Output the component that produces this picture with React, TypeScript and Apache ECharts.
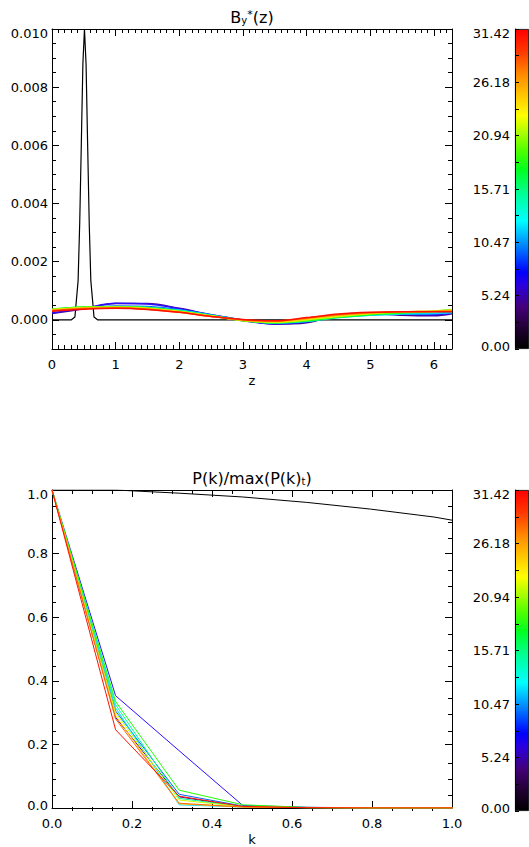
import React, { useEffect, useRef } from "react";
import * as echarts from "echarts";

// ---------- data ----------
const T_MAX = 31.416;
const Z_MAX = 6.2832;
const K_MAX = 1.0;

// times of the curves (colour scale), t=0 is black
const curveTimes = [0, 3.14, 6.28, 9.42, 12.57, 15.71, 18.85, 21.99, 25.13, 28.27, 31.42];
const curveColors = ["#000000", "#4a0098", "#2a10ff", "#0064ff", "#00d8ff", "#00ff90", "#20ff00", "#c8ff00", "#ffc800", "#ff6a00", "#ff1000"];

// top panel: B_y*(z)
const zBlack = [0, 0.3, 0.36, 0.41, 0.435, 0.46, 0.485, 0.51, 0.535, 0.56, 0.585, 0.61, 0.66, 0.72, 6.2832];
const byBlack = [0, 0, 0.0001, 0.00135, 0.0033, 0.006, 0.0088, 0.0100, 0.0088, 0.006, 0.0033, 0.00135, 0.0001, 0, 0];

const zGrid = [0, 0.5, 1.0, 1.5, 2.0, 2.5, 3.0, 3.5, 4.0, 4.5, 5.0, 5.5, 6.0, 6.2832];
const by_t03 = [0.00022, 0.00038, 0.00056, 0.00056, 0.00040, 0.00018, 0.00000, -0.00015, -0.00010, 0.00015, 0.00022, 0.00016, 0.00014, 0.00021];
const by_t06 = [0.00024, 0.00040, 0.00057, 0.00055, 0.00038, 0.00016, -0.00003, -0.00014, -0.00006, 0.00018, 0.00023, 0.00020, 0.00018, 0.00023];
const by_t09 = [0.00030, 0.00042, 0.00048, 0.00046, 0.00035, 0.00018, 0.00000, -0.00010, -0.00006, 0.00010, 0.00018, 0.00020, 0.00022, 0.00028];
const by_t13 = [0.00034, 0.00043, 0.00045, 0.00043, 0.00033, 0.00016, 0.00000, -0.00010, -0.00005, 0.00008, 0.00016, 0.00020, 0.00022, 0.00025];
const by_t16 = [0.00036, 0.00044, 0.00046, 0.00043, 0.00032, 0.00015, -0.00002, -0.00011, -0.00004, 0.00008, 0.00017, 0.00023, 0.00028, 0.00034];
const by_t19 = [0.00037, 0.00044, 0.00045, 0.00042, 0.00030, 0.00014, -0.00003, -0.00010, -0.00003, 0.00010, 0.00019, 0.00025, 0.00030, 0.00036];
const by_t22 = [0.00036, 0.00043, 0.00044, 0.00040, 0.00029, 0.00014, -0.00002, -0.00008, 0.00000, 0.00012, 0.00021, 0.00027, 0.00031, 0.00035];
const by_t25 = [0.00034, 0.00041, 0.00043, 0.00039, 0.00028, 0.00013, -0.00001, -0.00006, 0.00003, 0.00015, 0.00023, 0.00028, 0.00030, 0.00033];
const by_t28 = [0.00032, 0.00039, 0.00041, 0.00037, 0.00026, 0.00012, 0.00000, -0.00004, 0.00006, 0.00018, 0.00025, 0.00028, 0.00029, 0.00030];
const by_t31 = [0.00030, 0.00037, 0.00040, 0.00036, 0.00026, 0.00012, 0.00001, -0.00003, 0.00008, 0.00020, 0.00026, 0.00028, 0.00028, 0.00028];
const byCurves = [by_t03, by_t06, by_t09, by_t13, by_t16, by_t19, by_t22, by_t25, by_t28, by_t31];

// bottom panel: P(k)/max(P(k)_t)
const kGrid = [0, 0.159, 0.318, 0.477, 0.637, 0.796, 0.955, 1.114];
const pk_t00 = [1.0, 1.0, 0.99, 0.978, 0.961, 0.94, 0.915, 0.88];
const pk_t03 = [1.0, 0.285, 0.035, 0.004, 0.001, 0, 0, 0];
const pk_t06 = [1.0, 0.353, 0.18, 0.008, 0.002, 0.001, 0, 0];
const pk_t09 = [1.0, 0.305, 0.043, 0.006, 0.002, 0, 0, 0];
const pk_t13 = [1.0, 0.315, 0.010, 0.003, 0.001, 0, 0, 0];
const pk_t16 = [1.0, 0.325, 0.030, 0.005, 0.001, 0, 0, 0];
const pk_t19 = [1.0, 0.335, 0.056, 0.010, 0.002, 0, 0, 0];
const pk_t22 = [1.0, 0.300, 0.025, 0.004, 0.001, 0, 0, 0];
const pk_t25 = [1.0, 0.290, 0.013, 0.003, 0.001, 0, 0, 0];
const pk_t28 = [1.0, 0.280, 0.015, 0.003, 0.001, 0, 0, 0];
const pk_t31 = [1.0, 0.246, 0.037, 0.005, 0.001, 0, 0, 0];
const pkCurves = [pk_t00, pk_t03, pk_t06, pk_t09, pk_t13, pk_t16, pk_t19, pk_t22, pk_t25, pk_t28, pk_t31];

// tick values
const zTicks = [0, 1, 2, 3, 4, 5, 6];
const byTicks = [0, 0.002, 0.004, 0.006, 0.008, 0.010];
const kTicks = [0, 0.2, 0.4, 0.6, 0.8, 1.0];
const pTicks = [0, 0.2, 0.4, 0.6, 0.8, 1.0];
const cbTicks = [0, 5.236, 10.472, 15.708, 20.944, 26.180, 31.416];

// colour bar gradient
const cbStops: [number, string][] = [
  [0, "#000000"], [0.06, "#1e002e"], [0.13, "#44007a"], [0.2, "#2a00e0"], [0.24, "#0000ff"],
  [0.32, "#0080ff"], [0.40, "#00ffff"], [0.48, "#00ff9c"], [0.56, "#00ff20"], [0.62, "#50ff00"],
  [0.68, "#b0ff00"], [0.73, "#ffff00"], [0.80, "#ffc000"], [0.86, "#ff8800"], [0.93, "#ff3800"], [1, "#ff0000"],
];

// ---------- helpers ----------
const FONT = "'DejaVu Sans', sans-serif";
const AX = "#000";

function minorList(lo: number, hi: number, step: number, majorEvery: number): number[] {
  const out: number[] = [];
  const n0 = Math.ceil(lo / step - 1e-9);
  const n1 = Math.floor(hi / step + 1e-9);
  for (let i = n0; i <= n1; i++) {
    if (i % majorEvery !== 0) out.push(+(i * step).toFixed(6));
  }
  return out;
}

const zMinor = minorList(0, Z_MAX, 0.1, 10);
const byMinor = minorList(-0.001, 0.010, 0.0005, 4);
const kMinor = minorList(0, 1, 0.05, 4);
const pMinor = minorList(0, 1, 0.05, 4);
const cbAll = [...cbTicks, ...cbTicks.slice(0, 6).map((v, i) => (v + cbTicks[i + 1]) / 2)];

const rich = {
  dn: { padding: [8, 0, 0, 0], fontFamily: FONT, fontSize: 13, color: "#000" },
  up: { padding: [0, 0, 6, 0], fontFamily: FONT, fontSize: 13, color: "#000" },
};

function axis(o: any) {
  return {
    type: "value",
    gridIndex: o.grid,
    position: o.pos,
    min: o.min,
    max: o.max,
    z: o.z ?? 0,
    axisLine: { show: !!o.line, onZero: false, lineStyle: { color: AX, width: 1 } },
    axisTick: { show: true, inside: true, length: o.len, customValues: o.ticks, lineStyle: { color: AX, width: 1 } },
    axisLabel: o.labels
      ? { show: true, customValues: o.labels, formatter: o.fmt, margin: o.margin, color: "#000", fontFamily: FONT, fontSize: 13, rich }
      : { show: false },
    splitLine: { show: false },
    minorTick: { show: false },
    name: o.name ?? "",
    nameLocation: "middle",
    nameGap: o.nameGap ?? 0,
    nameTextStyle: { color: "#000", fontFamily: FONT, fontSize: 13 },
  };
}

const TOP = { left: 52, top: 29, width: 400, height: 320 };
const BOT = { left: 52, top: 490, width: 400, height: 321 };
const CB1 = { left: 515, top: 29, width: 14, height: 320 };
const CB2 = { left: 515, top: 490, width: 14, height: 321 };

const fmtBy = (v: number) => {
  const s = v.toFixed(3);
  return Math.abs(v - 0.01) < 1e-9 ? `{dn|${s}}` : s;
};
const fmtP = (v: number) => {
  const s = v.toFixed(1);
  if (Math.abs(v - 1) < 1e-9) return `{dn|${s}}`;
  if (Math.abs(v) < 1e-9) return `{up|${s}}`;
  return s;
};
const fmtCb = (v: number) => {
  const s = v.toFixed(2);
  if (v > 31) return `{dn|${s}}`;
  if (v < 0.01) return `{up|${s}}`;
  return s;
};

export default function App() {
  const ref = useRef<HTMLDivElement>(null);
  useEffect(() => {
    if (!ref.current) return;
    const chart = echarts.init(ref.current, undefined, { renderer: "svg" });

    const gradient = new echarts.graphic.LinearGradient(0, 1, 0, 0, cbStops.map(([offset, color]) => ({ offset, color })));

    const xAxis = [
      axis({ grid: 0, pos: "bottom", min: 0, max: Z_MAX, ticks: zTicks, len: 7, line: true, labels: zTicks, fmt: (v: number) => String(Math.round(v)), margin: 9, name: "z", nameGap: 25 }),
      axis({ grid: 0, pos: "top", min: 0, max: Z_MAX, ticks: zTicks, len: 7, line: true }),
      axis({ grid: 1, pos: "bottom", min: 0, max: Z_MAX, ticks: zMinor, len: 4 }),
      axis({ grid: 1, pos: "top", min: 0, max: Z_MAX, ticks: zMinor, len: 4 }),
      axis({ grid: 2, pos: "bottom", min: 0, max: K_MAX, ticks: kTicks, len: 7, line: true, labels: kTicks, fmt: (v: number) => v.toFixed(1), margin: 9, name: "k", nameGap: 25 }),
      axis({ grid: 2, pos: "top", min: 0, max: K_MAX, ticks: kTicks, len: 7, line: true }),
      axis({ grid: 3, pos: "bottom", min: 0, max: K_MAX, ticks: kMinor, len: 4 }),
      axis({ grid: 3, pos: "top", min: 0, max: K_MAX, ticks: kMinor, len: 4 }),
      { type: "category", gridIndex: 4, data: ["cb"], show: false },
      { type: "category", gridIndex: 5, data: ["cb"], show: false },
    ];
    const yAxis = [
      axis({ grid: 0, pos: "left", min: -0.001, max: 0.010, ticks: byTicks, len: 7, line: true, labels: byTicks, fmt: fmtBy, margin: 4 }),
      axis({ grid: 0, pos: "right", min: -0.001, max: 0.010, ticks: byTicks, len: 7, line: true }),
      axis({ grid: 1, pos: "left", min: -0.001, max: 0.010, ticks: byMinor, len: 4 }),
      axis({ grid: 1, pos: "right", min: -0.001, max: 0.010, ticks: byMinor, len: 4 }),
      axis({ grid: 2, pos: "left", min: 0, max: 1, ticks: pTicks, len: 7, line: true, labels: pTicks, fmt: fmtP, margin: 4 }),
      axis({ grid: 2, pos: "right", min: 0, max: 1, ticks: pTicks, len: 7, line: true }),
      axis({ grid: 3, pos: "left", min: 0, max: 1, ticks: pMinor, len: 4 }),
      axis({ grid: 3, pos: "right", min: 0, max: 1, ticks: pMinor, len: 4 }),
      axis({ grid: 4, pos: "left", min: 0, max: T_MAX, ticks: cbAll, len: 4, line: true, labels: cbTicks, fmt: fmtCb, margin: 5, z: 5 }),
      axis({ grid: 5, pos: "left", min: 0, max: T_MAX, ticks: cbAll, len: 4, line: true, labels: cbTicks, fmt: fmtCb, margin: 5, z: 5 }),
    ];

    const series: any[] = [];
    series.push({
      type: "line", xAxisIndex: 0, yAxisIndex: 0, data: zBlack.map((z, i) => [z, byBlack[i]]),
      showSymbol: false, silent: true, lineStyle: { color: curveColors[0], width: 1.2 }, z: 2,
    });
    byCurves.forEach((arr, j) => {
      series.push({
        type: "line", name: "t=" + curveTimes[j + 1], xAxisIndex: 0, yAxisIndex: 0,
        data: zGrid.map((z, i) => [z, arr[i]]), smooth: 0.35, showSymbol: false, silent: true,
        lineStyle: { color: curveColors[j + 1], width: 1.5 }, z: 3,
      });
    });
    pkCurves.forEach((arr, j) => {
      series.push({
        type: "line", name: "t=" + curveTimes[j], xAxisIndex: 4, yAxisIndex: 4,
        data: kGrid.map((k, i) => [k, arr[i]]), showSymbol: false, silent: true, clip: true,
        lineStyle: { color: curveColors[j], width: 1 }, z: 3,
      });
    });
    [8, 9].forEach((ai) => {
      series.push({
        type: "bar", xAxisIndex: ai, yAxisIndex: ai, data: [T_MAX], barWidth: "100%", silent: true,
        itemStyle: { color: gradient, borderColor: "#000", borderWidth: 0.8 }, z: 1,
      });
    });

    const titleRich = {
      m: { fontFamily: FONT, fontSize: 16, color: "#000" },
      sub: { fontFamily: FONT, fontSize: 10, color: "#000", lineHeight: 10, verticalAlign: "bottom" },
      sup: { fontFamily: FONT, fontSize: 11, color: "#000", lineHeight: 12, verticalAlign: "top" },
    };

    chart.setOption({
      animation: false,
      backgroundColor: "#fff",
      grid: [
        { ...TOP, containLabel: false },
        { ...TOP, containLabel: false },
        { ...BOT, containLabel: false },
        { ...BOT, containLabel: false },
        { ...CB1, containLabel: false },
        { ...CB2, containLabel: false },
      ],
      xAxis,
      yAxis,
      series,
      graphic: [
        {
          type: "text", x: 252, y: 17, silent: true,
          style: { text: "{m|B}{sub|y}{sup|*}{m|(z)}", rich: titleRich, align: "center", verticalAlign: "middle" },
        },
        {
          type: "text", x: 252, y: 478, silent: true,
          style: { text: "{m|P(k)/max(P(k)}{sub|t}{m|)}", rich: titleRich, align: "center", verticalAlign: "middle" },
        },
      ],
    });
    return () => chart.dispose();
  }, []);
  return <div ref={ref} style={{ position: "absolute", left: 0, top: 0, width: 529, height: 847, background: "#fff" }} />;
}
